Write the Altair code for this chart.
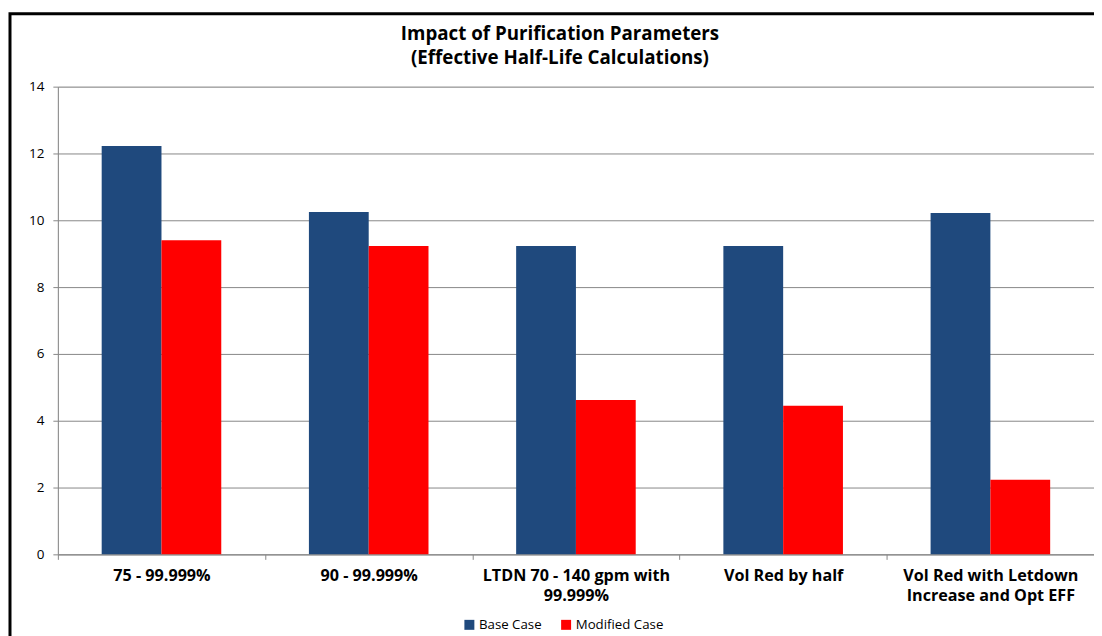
import altair as alt
import pandas as pd

categories = [
    "75 - 99.999%",
    "90 - 99.999%",
    "LTDN 70 - 140 gpm with\n99.999%",
    "Vol Red by half",
    "Vol Red with Letdown\nIncrease and Opt EFF",
]
series = ["Base Case", "Modified Case"]
base_case = [12.22, 10.25, 9.23, 9.23, 10.22]
modified_case = [9.4, 9.23, 4.62, 4.45, 2.23]
colors = ["#1F497D", "#FF0000"]
y_ticks = [0, 2, 4, 6, 8, 10, 12, 14]

rows = []
for c, b, m in zip(categories, base_case, modified_case):
    rows.append({"category": c, "series": series[0], "value": b})
    rows.append({"category": c, "series": series[1], "value": m})
df = pd.DataFrame(rows)

FONT = "Open Sans"
GRAY = "#888888"

bars = alt.Chart(df).mark_bar().encode(
    x=alt.X(
        "category:N",
        sort=categories,
        scale=alt.Scale(paddingInner=0, paddingOuter=0),
        axis=alt.Axis(
            title=None,
            labelAngle=0,
            labelExpr="split(datum.label, '\\n')",
            tickBand="extent",
            labelFont=FONT,
            labelFontWeight="bold",
            labelFontSize=16.2,
            labelColor="black",
            labelLineHeight=20,
            labelPadding=8,
            labelLimit=400,
            domainColor=GRAY,
            tickColor=GRAY,
            tickSize=5,
            grid=False,
        ),
    ),
    xOffset=alt.XOffset(
        "series:N", sort=series, scale=alt.Scale(paddingOuter=0.733, paddingInner=0)
    ),
    y=alt.Y(
        "value:Q",
        scale=alt.Scale(domain=[0, 14], nice=False),
        axis=alt.Axis(
            title=None,
            values=y_ticks,
            labelFont=FONT,
            labelFontSize=13.5,
            labelColor="black",
            labelPadding=9,
            domainColor=GRAY,
            tickColor=GRAY,
            tickSize=5,
            gridColor=GRAY,
            gridWidth=1,
        ),
    ),
    color=alt.Color(
        "series:N",
        sort=series,
        scale=alt.Scale(domain=series, range=colors),
        legend=alt.Legend(
            title=None,
            orient="none",
            legendX=406,
            legendY=533,
            direction="horizontal",
            symbolType="square",
            symbolSize=100,
            symbolStrokeWidth=0,
            labelFont=FONT,
            labelFontSize=13.3,
            labelColor="black",
            labelOffset=3,
            columnPadding=17,
        ),
    ),
)

frame = alt.Chart(pd.DataFrame({"frame": [1]})).mark_rect(
    fillOpacity=0, stroke="black", strokeWidth=3
).encode(
    x=alt.value(-48), x2=alt.value(1200), y=alt.value(-73), y2=alt.value(700)
)

chart = alt.layer(frame, bars).properties(
    width=1039,
    height=469,
    title=alt.TitleParams(
        ["Impact of Purification Parameters", "(Effective Half-Life Calculations)"],
        font=FONT,
        fontSize=18.8,
        fontWeight="bold",
        color="black",
        anchor="middle",
        frame="group",
        dx=-16,
        offset=-56,
        lineHeight=24,
    ),
    autosize=alt.AutoSizeParams(type="none"),
    padding={"left": 50, "top": 78, "right": 0, "bottom": 82},
).configure_view(stroke=None).configure(background="white")

chart.save("out.html", embed_options={"renderer": "svg", "actions": False})
